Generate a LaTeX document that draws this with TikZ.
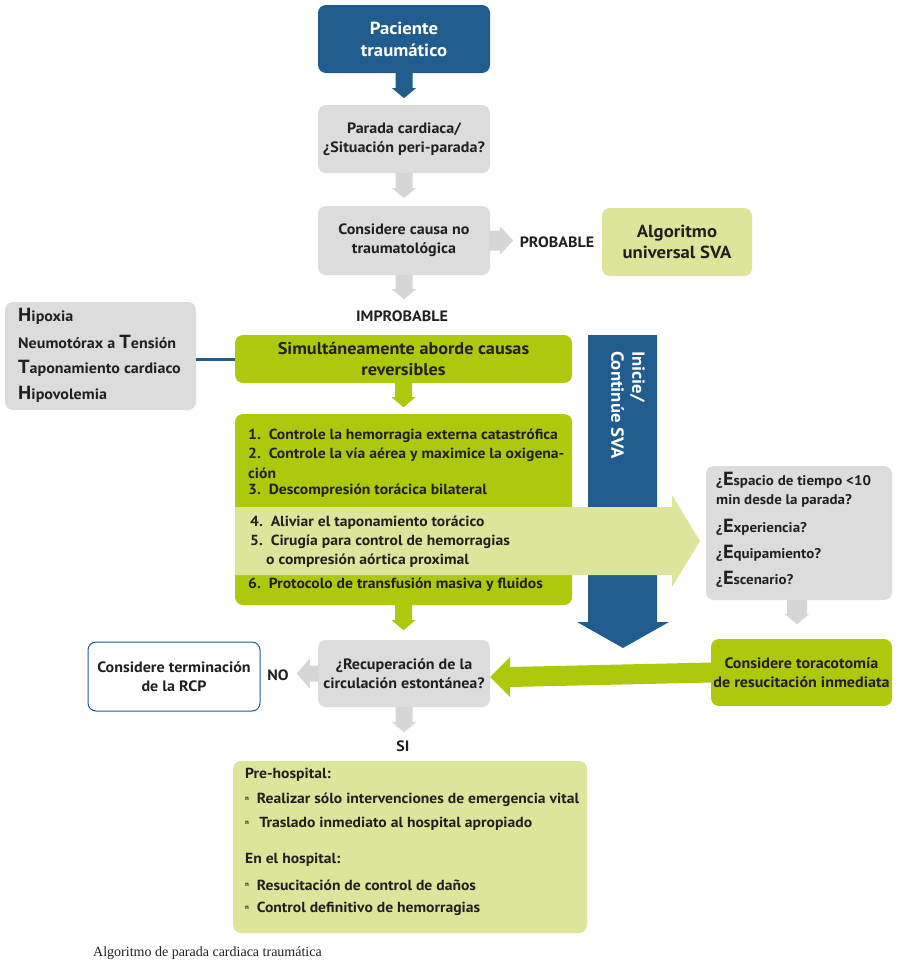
\documentclass[tikz,border=0pt]{standalone}
\usepackage{fontspec}
\setmainfont[FakeStretch=1.07]{PT Sans}
\newfontfamily\capfont{Liberation Serif}
\usetikzlibrary{calc}
\definecolor{blueC}{RGB}{33,92,142}
\definecolor{limeC}{RGB}{174,200,12}
\definecolor{paleC}{RGB}{221,229,155}
\definecolor{grayC}{RGB}{220,220,220}
\definecolor{arrC}{RGB}{214,214,214}
\definecolor{txtC}{RGB}{35,31,32}
\newcommand\dnarr[3]{\fill[#3] (#1) ++(-8.5,0) -- ++(0,#2-10) -- ++(-3.5,0) -- ++(12,10) -- ++(12,-10) -- ++(-3.5,0) -- ++(0,-#2+10) -- cycle;}
\newcommand\bigE[1]{{\fontsize{19}{18}\selectfont #1}}
\newcommand\bulN{\raisebox{3.5pt}{\fontsize{6.5}{6.5}\selectfont n}}
\begin{document}
\begin{tikzpicture}[x=1pt,y=-1pt,
  boxbase/.style={rounded corners=8pt, align=center, inner sep=0pt, text=txtC, font=\bfseries\fontsize{15}{19}\selectfont},
  graybox/.style={boxbase, fill=grayC},
  bluebox/.style={boxbase, fill=blueC, text=white, font=\bfseries\fontsize{17.5}{22}\selectfont},
  limebox/.style={boxbase, fill=limeC},
  palebox/.style={boxbase, fill=paleC},
  whitebox/.style={boxbase, fill=white, draw=blueC, line width=1pt},
  lbl/.style={text=txtC, font=\bfseries\fontsize{15}{18}\selectfont, inner sep=0pt},
  item/.style={lbl, anchor=west},
  litem/.style={item, font=\bfseries\fontsize{14.6}{18}\selectfont},
  qitem/.style={item, font=\bfseries\fontsize{14}{18}\selectfont}]
\useasboundingbox[fill=white] (0,0) rectangle (900,980);

% top column
\node[bluebox, minimum width=172, minimum height=68] (pac) at (404,39) {Paciente\\traumático};
\node[graybox, minimum width=172, minimum height=68] (par) at (404,139) {Parada cardiaca/\\¿Situación peri-parada?};
\node[graybox, minimum width=172, minimum height=69] (cons) at (404,240.5) {Considere causa no\\traumatológica};
\node[lbl] (prob) at (557,242) {PROBABLE};
\node[palebox, minimum width=150, minimum height=68, font=\bfseries\fontsize{17.5}{21}\selectfont] (alg) at (677,242) {Algoritmo\\universal SVA};
\node[lbl] (impr) at (402,316) {IMPROBABLE};

\dnarr{pac.south}{25}{blueC}
\dnarr{par.south}{25}{arrC}
\dnarr{cons.south}{24}{arrC}
\fill[arrC] (cons.east) ++(0,-10) -- ++(10,0) -- ++(0,-4) -- ++(13,14) -- ++(-13,14) -- ++(0,-4) -- ++(-10,0) -- cycle;

% reversible causes
\node[limebox, minimum width=337, minimum height=48, font=\bfseries\fontsize{17}{21}\selectfont] (sim) at (403.5,359) {Simultáneamente aborde causas\\reversibles};
\node[graybox, minimum width=191, minimum height=108] (hith) at (100.5,356) {};
\draw[blueC, line width=3pt] (hith.east |- sim.west) -- (sim.west);
\node[item] (h1) at (18,316) {\bigE{H}ipoxia};
\node[item] (h2) at (18,342) {Neumotórax a \bigE{T}ensión};
\node[item] (h3) at (18,368) {\bigE{T}aponamiento cardiaco};
\node[item] (h4) at (18,394) {\bigE{H}ipovolemia};
\dnarr{sim.south}{24}{limeC}

% list box
\node[limebox, minimum width=337, minimum height=191] (list) at (403.5,509.5) {};
\dnarr{list.south}{25}{limeC}

% blue vertical arrow
\fill[blueC] (588,335) coordinate (bl) -- (657,335) -- (657,622) -- (669,622) -- (623,648) coordinate (btip) -- (577,622) -- (588,622) -- cycle;
\node[rotate=-90, anchor=north west, align=left, text=white, font=\bfseries\fontsize{17.5}{21}\selectfont, inner sep=0pt] (sva) at (645,351) {Inicie/\\Continúe SVA};

% pale band arrow
\fill[paleC] (235,507) -- (672,507) -- (672,495) -- (700,541) coordinate (bandtip) -- (672,587) -- (672,575) -- (235,575) -- cycle;

\node[litem] (l1) at (248,436) {1.\ \ Controle la hemorragia externa catastrófica};
\node[litem] (l2) at (248,454.5) {2.\ \ Controle la vía aérea y maximice la oxigena-};
\node[litem] (l2b) at (248,473) {ción};
\node[litem] (l3) at (248,491) {3.\ \ Descompresión torácica bilateral};
\node[litem] (l4) at (250,523) {4.\ \ Aliviar el taponamiento torácico};
\node[litem] (l5) at (250,542) {5.\ \ Cirugía para control de hemorragias};
\node[litem] (l5b) at (266,561) {o compresión aórtica proximal};
\node[litem] (l6) at (248,585) {6.\ \ Protocolo de transfusión masiva y fluidos};

% right question box
\node[graybox, minimum width=186, minimum height=134] (q) at (799,533) {};
\node[qitem] (q1) at (716,480) {¿\bigE{E}spacio de tiempo <10};
\node[qitem] (q1b) at (716,501) {min desde la parada?};
\node[qitem] (q2) at (716,527) {¿\bigE{E}xperiencia?};
\node[qitem] (q3) at (716,553) {¿\bigE{E}quipamiento?};
\node[qitem] (q4) at (716,579) {¿\bigE{E}scenario?};
\node[limebox, minimum width=181, minimum height=67] (tor) at (801.5,672.5) {Considere toracotomía\\de resucitación inmediata};
\fill[arrC] ($(q.south)+(-2,0)$) ++(-10,0) -- ++(0,14) -- ++(-2,0) -- ++(12,10) -- ++(12,-10) -- ++(-2,0) -- ++(0,-14) -- cycle;

% recovery row
\node[graybox, minimum width=172, minimum height=67] (rec) at (404,673.5) {¿Recuperación de la\\circulación estontánea?};
\fill[limeC] (tor.west) ++(0,-10) -- ($(rec.east)+(20,-6.5)$) -- ++(0,-10) -- ($(rec.east)+(0,3.5)$) -- ++(20,20) -- ++(0,-10) -- ($(tor.west)+(0,10)$) -- cycle;
\node[whitebox, minimum width=172, minimum height=69] (term) at (174,676.5) {Considere terminación\\de la RCP};
\node[lbl] (no) at (278,675) {NO};
\fill[arrC] (rec.west) ++(0,-8) -- ++(-8,0) -- ++(0,-7) -- ++(-13,15) -- ++(13,15) -- ++(0,-7) -- ++(8,0) -- cycle;
\dnarr{rec.south}{25}{arrC}
\node[lbl] (si) at (403,746) {SI};

% final box
\node[palebox, minimum width=354, minimum height=172] (fin) at (410,847) {};
\node[litem] (f1) at (245,775) {Pre-hospital:};
\node[litem] (f2) at (245,800) {\bulN\ \ Realizar sólo intervenciones de emergencia vital};
\node[litem] (f3) at (245,824) {\bulN\ \ \,Traslado inmediato al hospital apropiado};
\node[litem] (f4) at (245,860) {En el hospital:};
\node[litem] (f5) at (245,885) {\bulN\ \ Resucitación de control de daños};
\node[litem] (f6) at (245,909) {\bulN\ \ Control definitivo de hemorragias};

\node[anchor=west, inner sep=0pt, text=txtC, font=\capfont\fontsize{14}{15}\selectfont] (cap) at (93,953) {Algoritmo de parada cardiaca traumática};
\end{tikzpicture}
\end{document}
